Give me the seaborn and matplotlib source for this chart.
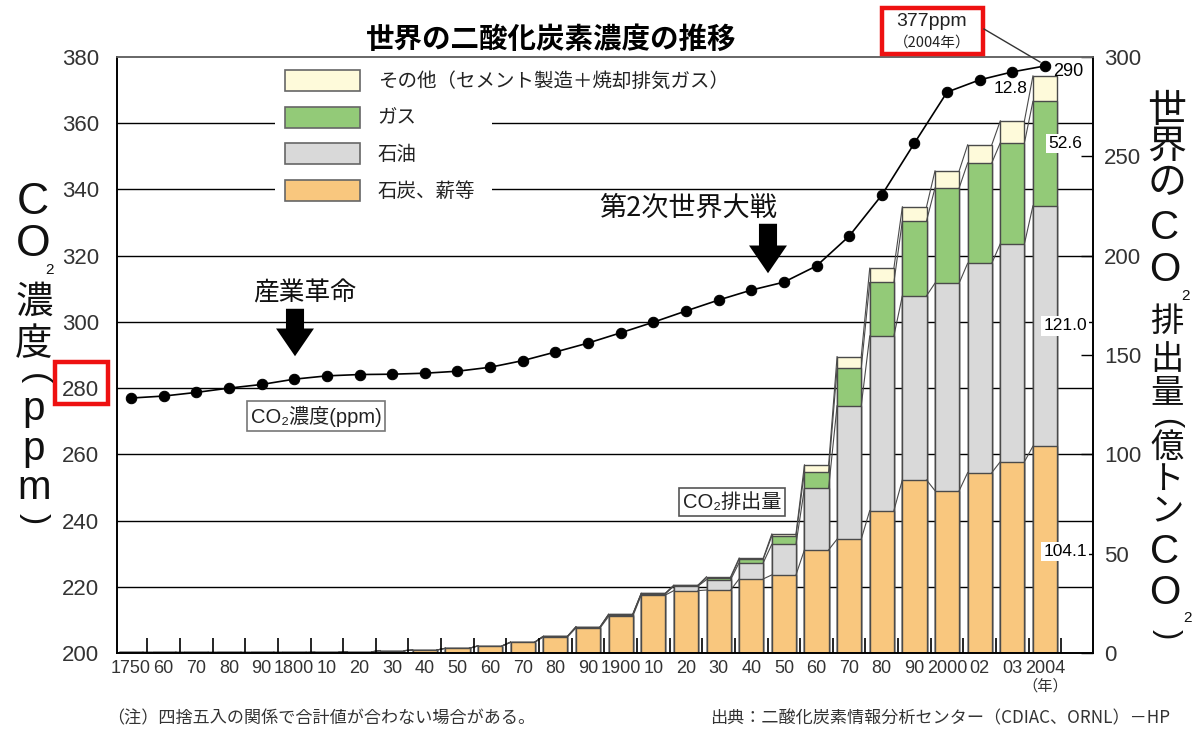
import numpy as np
import pandas as pd
import matplotlib
matplotlib.use("Agg")
import matplotlib.pyplot as plt
import seaborn as sns
from matplotlib.patches import Patch, Rectangle
from matplotlib.lines import Line2D

# ---------------- data ----------------
years = [1750, 1760, 1770, 1780, 1790, 1800, 1810, 1820, 1830, 1840, 1850, 1860, 1870, 1880, 1890,
         1900, 1910, 1920, 1930, 1940, 1950, 1960, 1970, 1980, 1990, 2000, 2002, 2003, 2004]
tick_labels = ["1750", "60", "70", "80", "90", "1800", "10", "20", "30", "40", "50", "60", "70", "80", "90",
               "1900", "10", "20", "30", "40", "50", "60", "70", "80", "90", "2000", "02", "03", "2004"]
ppm = [277.0, 277.6, 278.7, 280.0, 281.1, 282.7, 283.7, 284.1, 284.2, 284.5, 285.1, 286.3, 288.3, 290.9, 293.6,
       296.7, 299.9, 303.3, 306.6, 309.6, 312.0, 316.9, 325.9, 338.3, 354.0, 369.4, 373.1, 375.5, 377.3]
coal = [0.3, 0.3, 0.3, 0.3, 0.3, 0.3, 0.4, 0.6, 1.2, 1.5, 2.4, 3.6, 5.4, 8.1, 12.6,
        18.4, 29.2, 31.4, 31.7, 37.3, 39.3, 51.9, 57.3, 71.7, 87.1, 81.7, 90.8, 96.3, 104.1]
oil = [0, 0, 0, 0, 0, 0, 0, 0, 0, 0, 0, 0, 0.1, 0.3, 0.5,
       0.8, 0.6, 2.3, 5.2, 8.2, 15.4, 31.0, 67.2, 87.9, 92.7, 104.5, 105.4, 109.7, 121.0]
gas = [0, 0, 0, 0, 0, 0, 0, 0, 0, 0, 0, 0, 0, 0, 0.1,
       0.2, 0.2, 0.3, 0.9, 1.8, 4.2, 8.4, 18.8, 26.9, 37.7, 47.9, 50.5, 50.8, 52.6]
other = [0, 0, 0, 0, 0, 0, 0, 0, 0, 0, 0, 0, 0, 0, 0,
         0.2, 0.1, 0.2, 0.6, 0.5, 1.0, 3.4, 5.9, 7.2, 7.1, 8.6, 9.1, 11.1, 12.8]
series_names = ["その他（セメント製造＋焼却排気ガス）", "ガス", "石油", "石炭、薪等"]
ppm_ticks = [200, 220, 240, 260, 280, 300, 320, 340, 360, 380]
em_ticks = [0, 50, 100, 150, 200, 250, 300]

# ---------------- style ----------------
CJK = "Noto Sans CJK JP"
LAT = "Liberation Sans"
plt.rcParams["font.family"] = [LAT, CJK, "DejaVu Sans"]
plt.rcParams["axes.unicode_minus"] = False

c_coal = "#F9C77E"
c_oil = "#D9D9D9"
c_gas = "#93CA78"
c_other = "#FEFADA"
edge = "#4a4a4a"

W, H = 1193, 731
def fx(px):
    return px / W
def fy(py):
    return 1 - py / H

fig = plt.figure(figsize=(W / 100, H / 100), dpi=100)
ax = fig.add_axes([fx(117), fy(653), 976 / W, 596 / H])
ax2 = ax.twinx()

df = pd.DataFrame({"year": [str(y) for y in years], "coal": coal, "oil": oil, "gas": gas, "other": other})
df["lvl_oil"] = df["coal"] + df["oil"]
df["lvl_gas"] = df["lvl_oil"] + df["gas"]
df["total"] = df["lvl_gas"] + df["other"]
order = list(df["year"])
n = len(df)

# gridlines (ppm levels, expressed on emission scale)
for p in ppm_ticks[1:-1]:
    ax.axhline((p - 200) / 180 * 300, color="black", lw=1.0, zorder=0.5)

# white patch behind legend
ax.add_patch(Rectangle((fx(275), fy(207)), (492 - 275) / W, (207 - 62) / H, transform=fig.transFigure,
                       facecolor="white", edgecolor="none", zorder=0.8))

bw = 0.74
for col, colr in [("total", c_other), ("lvl_gas", c_gas), ("lvl_oil", c_oil), ("coal", c_coal)]:
    sns.barplot(data=df, x="year", y=col, order=order, color=colr, width=bw, saturation=1,
                edgecolor=edge, linewidth=1.0, errorbar=None, ax=ax, zorder=1)

# connecting lines between adjacent bars
hw = bw / 2
for col in ["coal", "lvl_oil", "lvl_gas", "total"]:
    v = df[col].values
    xs, ys = [], []
    for i in range(n - 1):
        xs += [i + hw, i + 1 - hw, np.nan]
        ys += [v[i], v[i + 1], np.nan]
    ax.plot(xs, ys, color=edge, lw=0.8, zorder=1.5)

ax.set_ylim(0, 300)
ax.set_xlim(-0.43, 29.47)
ax.set_xlabel("")
ax.set_ylabel("")
ax.yaxis.tick_right()
ax.set_yticks(em_ticks)
ax.set_yticklabels([str(t) for t in em_ticks])
ax.tick_params(axis="y", direction="in", length=9, width=1, pad=8, labelsize=16, labelcolor="#333333",
               right=True, left=False)
ax.set_xticks(range(n))
ax.set_xticklabels(tick_labels, fontsize=13, family=["Liberation Sans Narrow", LAT])
ax.tick_params(axis="x", length=0, pad=5, labelcolor="#333333")
ax.set_xticks([i + 0.5 for i in range(n)], minor=True)
ax.tick_params(axis="x", which="minor", direction="in", length=11, width=1.2, color="black")

# CO2 concentration line
sns.lineplot(x=np.arange(n), y=ppm, ax=ax2, color="black", marker="o", markersize=7.5,
             markeredgecolor="black", markerfacecolor="black", lw=1.2, sort=False, zorder=5)
ax2.set_ylim(200, 380)
ax2.yaxis.tick_left()
ax2.set_yticks(ppm_ticks)
ax2.set_yticklabels([str(t) for t in ppm_ticks])
ax2.tick_params(axis="y", length=0, pad=13, labelsize=16, labelcolor="#333333", left=True, right=False)
ax2.set_ylabel("")
ax2.set_xlabel("")

for a in (ax, ax2):
    for s in a.spines.values():
        s.set_color("black")
        s.set_linewidth(1.2)
    a.spines["top"].set_color("#666666")

# legend
handles = [Patch(facecolor=c, edgecolor="#666666", lw=1.2, label=l)
           for c, l in zip([c_other, c_gas, c_oil, c_coal], series_names)]
leg = ax2.legend(handles=handles, loc="upper left", bbox_to_anchor=(fx(285), fy(70)),
                 bbox_transform=fig.transFigure, frameon=False, fontsize=14, handlelength=3.87,
                 handleheight=1.29, handletextpad=0.9, labelspacing=0.8, borderpad=0, borderaxespad=0)
for t in leg.get_texts():
    t.set_color("#222222")

# value labels on 2004 bar
last = n - 1
ax.text(last + 0.62, df["coal"].iloc[-1] * 0.5 - 1, f"{coal[-1]:.1f}", fontsize=12.5, ha="center", va="center",
        bbox=dict(facecolor="white", edgecolor="none", pad=1.5), zorder=6)
ax.text(last + 0.62, df["coal"].iloc[-1] + oil[-1] * 0.5, f"{oil[-1]:.1f}", fontsize=12.5, ha="center",
        va="center", bbox=dict(facecolor="white", edgecolor="none", pad=1.5), zorder=6)
ax.text(last + 0.62, df["lvl_oil"].iloc[-1] + gas[-1] * 0.6, f"{gas[-1]:.1f}", fontsize=12.5, ha="center",
        va="center", bbox=dict(facecolor="white", edgecolor="none", pad=1.5), zorder=6)
ax.text(last - 0.55, df["lvl_gas"].iloc[-1] + other[-1] * 0.5, f"{other[-1]:.1f}", fontsize=12.5,
        ha="right", va="center", zorder=6)
ax.text(last + 0.25, df["total"].iloc[-1] + 2.0, f"{df['total'].iloc[-1]:.0f}", fontsize=13,
        ha="left", va="center", zorder=6)

# title
fig.text(fx(551), fy(40), "世界の二酸化炭素濃度の推移", ha="center", va="center", fontsize=20.5,
         fontweight="bold", family=[CJK])

# event annotations
fig.text(fx(305), fy(293), "産業革命", ha="center", va="center", fontsize=18.5, family=[CJK], color="#111111")
fig.text(fx(688), fy(208), "第2次世界大戦", ha="center", va="center", fontsize=19.5, family=[CJK], color="#111111")
arrow_style = "simple,head_length=0.95,head_width=1.3,tail_width=0.62"
for xpx, y0, y1 in [(295, 306, 359), (768, 221, 276)]:
    ax2.annotate("", xy=(xpx, H - y1), xytext=(xpx, H - y0), xycoords="figure pixels",
                 textcoords="figure pixels",
                 arrowprops=dict(arrowstyle=arrow_style, mutation_scale=21, color="black", lw=0))

# boxed labels
fig.text(fx(316), fy(416), "CO₂濃度(ppm)", ha="center", va="center", fontsize=14.5, color="#222222",
         bbox=dict(facecolor="white", edgecolor="#777777", lw=1.2, boxstyle="square,pad=0.2"))
fig.text(fx(732), fy(502), "CO₂排出量", ha="center", va="center", fontsize=14.5, color="#222222",
         bbox=dict(facecolor="white", edgecolor="#555555", lw=1.2, boxstyle="square,pad=0.2"))

# 377ppm callout
fig.text(fx(932), fy(22), "377ppm", ha="center", va="center", fontsize=14, color="#222222")
fig.text(fx(932), fy(43), "（2004年）", ha="center", va="center", fontsize=10.5, color="#222222", family=[CJK])
fig.add_artist(Rectangle((fx(882), fy(54)), (983 - 882) / W, (54 - 8) / H, transform=fig.transFigure,
                         fill=False, edgecolor="#ee1111", lw=3.2))
fig.add_artist(Line2D([fx(984), fx(1040)], [fy(29), fy(62)], transform=fig.transFigure, color="#333333", lw=1))

# red box around 280
fig.add_artist(Rectangle((fx(55), fy(404)), (108 - 55) / W, (404 - 362) / H, transform=fig.transFigure,
                         fill=False, edgecolor="#ee1111", lw=3.2))

# (年)
fig.text(fx(1045), fy(686), "（年）", ha="center", va="center", fontsize=11, color="#333333", family=[CJK])

# left vertical axis title (vertical writing; parentheses turned)
left_chars = [("C", 33, 203, 32, 0), ("O", 33, 245, 32, 0), ("2", 50, 270, 11, 0), ("濃", 34, 303, 27, 0),
              ("度", 34, 345, 27, 0), ("(", 34, 379, 24, -90), ("p", 34, 409, 29, 0), ("p", 34, 449, 29, 0),
              ("m", 34, 488, 29, 0), (")", 34, 519, 24, -90)]
for ch, x, y, fs, rot in left_chars:
    fig.text(fx(x), fy(y), ch, ha="center", va="center", fontsize=fs, color="#111111", rotation=rot,
             family=[LAT, CJK, "DejaVu Sans"])

# right vertical axis title
right_chars = [("世", 1167, 112, 28, 0), ("界", 1167, 148, 28, 0), ("の", 1167, 184, 28, 0),
               ("C", 1165, 228, 29, 0), ("O", 1165, 270, 29, 0), ("2", 1186, 296, 11, 0),
               ("排", 1167, 322, 24, 0), ("出", 1167, 360, 24, 0), ("量", 1167, 394, 24, 0),
               ("(", 1167, 423, 22, -90), ("億", 1167, 448, 24, 0), ("ト", 1167, 480, 24, 0),
               ("ン", 1167, 513, 24, 0), ("C", 1165, 552, 29, 0), ("O", 1165, 593, 29, 0),
               ("2", 1187, 618, 11, 0), (")", 1167, 634, 22, -90)]
for ch, x, y, fs, rot in right_chars:
    fig.text(fx(x), fy(y), ch, ha="center", va="center", fontsize=fs, color="#111111", rotation=rot,
             family=[LAT, CJK, "DejaVu Sans"])

# footnotes
fig.text(fx(107), fy(718), "（注）四捨五入の関係で合計値が合わない場合がある。", ha="left", va="center",
         fontsize=12.3, color="#333333", family=[CJK])
fig.text(fx(1170), fy(718), "出典：二酸化炭素情報分析センター（CDIAC、ORNL）－HP", ha="right", va="center",
         fontsize=12.3, color="#333333", family=[CJK])

fig.savefig("out.png", dpi=100, facecolor="white")
